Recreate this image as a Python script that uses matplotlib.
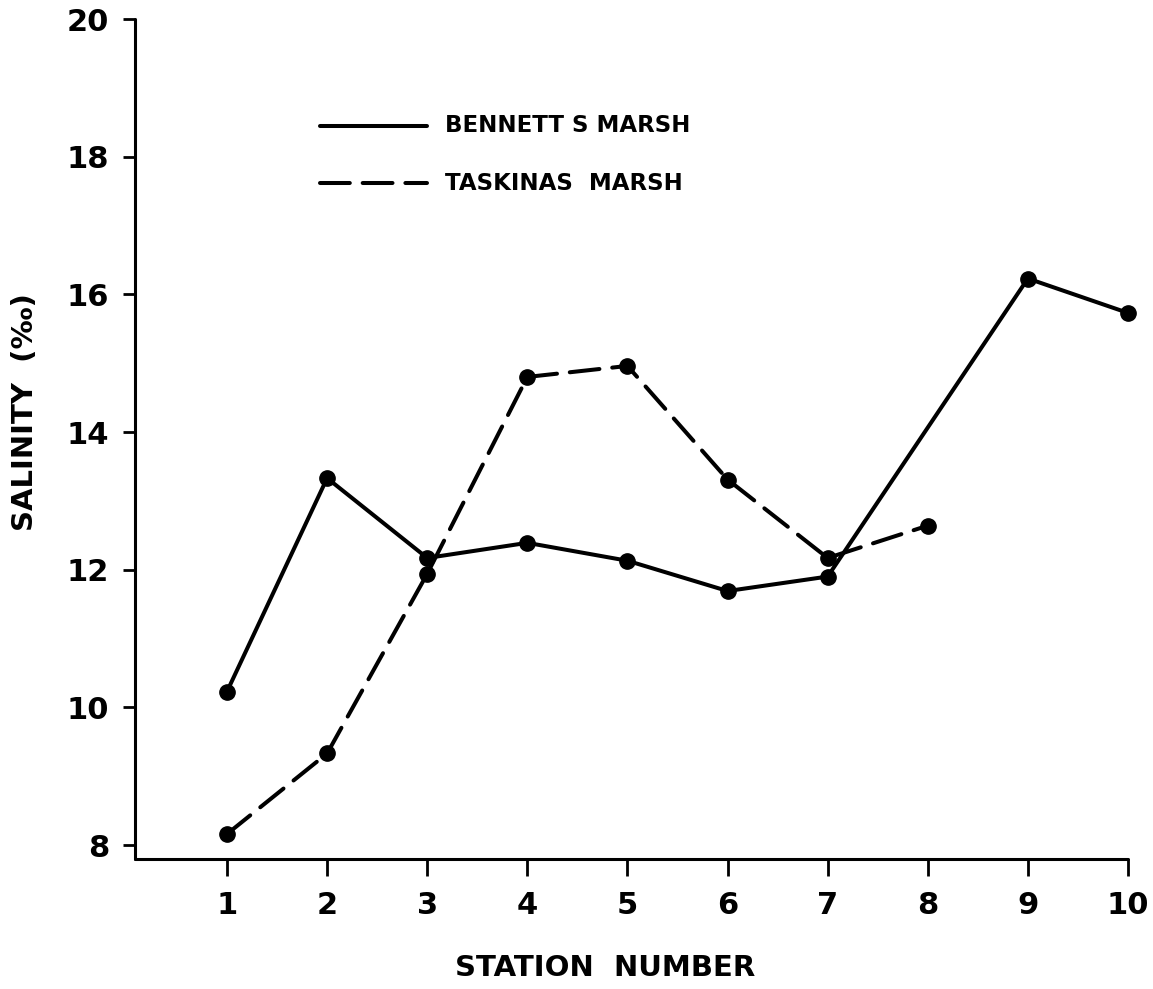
import matplotlib
matplotlib.use("Agg")
import matplotlib.pyplot as plt
from matplotlib.lines import Line2D

stations_bennetts = [1, 2, 3, 4, 5, 6, 7, 9, 10]
salinity_bennetts = [10.23, 13.33, 12.17, 12.39, 12.13, 11.69, 11.90, 16.23, 15.73]
stations_taskinas = [1, 2, 3, 4, 5, 6, 7, 8]
salinity_taskinas = [8.16, 9.33, 11.94, 14.80, 14.96, 13.31, 12.17, 12.64]
x_ticks = list(range(1, 11))
y_ticks = [8, 10, 12, 14, 16, 18, 20]
legend_labels = ["BENNETT S MARSH", "TASKINAS  MARSH"]

W, H = 1153, 989
fig = plt.figure(figsize=(W / 100, H / 100), dpi=100)
plt.rcParams['font.family'] = ['DejaVu Sans']

left_px, right_px = 135, 1128
bottom_px, top_px = 859, 19
ax = fig.add_axes([left_px / W, (H - bottom_px) / H,
                   (right_px - left_px) / W, (bottom_px - top_px) / H])

lw = 2.9
ax.plot(stations_bennetts, salinity_bennetts, color='black', lw=lw,
        marker='o', markersize=11, solid_capstyle='round', clip_on=False)
ax.plot(stations_taskinas, salinity_taskinas, color='black', lw=lw,
        marker='o', markersize=11, dashes=(7.4, 3.2), dash_capstyle='round',
        clip_on=False)

ax.set_xlim(0.081, 10)
ax.set_ylim(7.797, 20)
ax.set_xticks(x_ticks)
ax.set_xticklabels([str(v) for v in x_ticks], fontweight='bold')
ax.set_yticks(y_ticks)
ax.set_yticklabels([str(v) for v in y_ticks], fontweight='bold')

for s in ['top', 'right']:
    ax.spines[s].set_visible(False)
for s in ['left', 'bottom']:
    ax.spines[s].set_linewidth(2.2)
    ax.spines[s].set_capstyle('round')

ax.tick_params(axis='y', direction='out', length=8.6, width=2.0, pad=10,
               labelsize=22)
ax.tick_params(axis='x', direction='out', length=12, width=2.0, pad=11,
               labelsize=22)

# legend drawn manually
def fx(px):
    return px / W
def fy(py):
    return (H - py) / H

fig.add_artist(Line2D([fx(320), fx(427)], [fy(126), fy(126)], color='black',
                      lw=lw, solid_capstyle='round', transform=fig.transFigure))
fig.add_artist(Line2D([fx(320), fx(427)], [fy(183), fy(183)], color='black',
                      lw=lw, dashes=(7.4, 3.2), dash_capstyle='round',
                      transform=fig.transFigure))
fig.text(fx(445), fy(126), legend_labels[0], fontsize=16.5, fontweight='bold',
         va='center', ha='left')
fig.text(fx(445), fy(183), legend_labels[1], fontsize=16.5, fontweight='bold',
         va='center', ha='left')

fig.text(fx(605), fy(968), "STATION  NUMBER", fontsize=21, fontweight='bold',
         ha='center', va='center')
fig.text(fx(25), fy(412), "SALINITY  (‰)", fontsize=21, fontweight='bold',
         ha='center', va='center', rotation=90)

fig.savefig("out.png", dpi=100)
